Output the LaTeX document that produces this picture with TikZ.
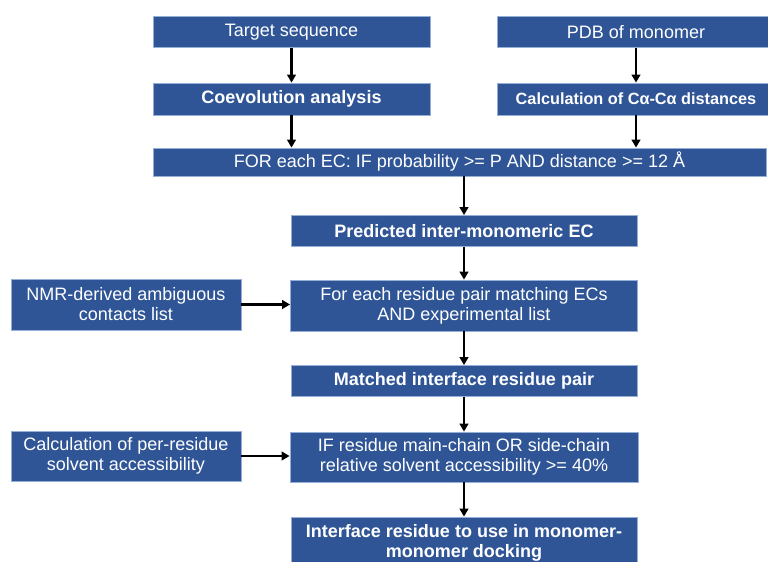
\documentclass[tikz,border=0pt]{standalone}
\usepackage{fontspec}
\setmainfont{Liberation Sans}
\usepackage{xcolor}
\usepackage{tikz}
\usetikzlibrary{arrows.meta}

\definecolor{boxblue}{RGB}{47,85,151}
\definecolor{boxedge}{RGB}{150,175,215}

\tikzset{
    flowbox/.style={draw=boxedge,line width=0.6pt,fill=boxblue,text=white,
        inner sep=0pt,align=center,font=\fontsize{13.5}{15}\selectfont},
    flowbold/.style={flowbox,font=\fontsize{13.5}{15}\selectfont\bfseries},
    flowarrow/.style={line width=1.6pt,-{Triangle[length=6pt,width=6.5pt]}}
}

\begin{document}
\begin{tikzpicture}[x=0.75pt,y=-0.75pt]
    \useasboundingbox (0,0) rectangle (768,561);
    \clip (0,0) rectangle (768,561);
    % top row
    \node[flowbox,minimum width=207.75pt,minimum height=23.25pt] (tgt) at (291.5,32) {Target sequence};
    \node[flowbox,minimum width=208.5pt,minimum height=23.25pt] (pdb) at (636,32) {PDB of monomer};
    \node[flowbold,minimum width=207.75pt,minimum height=24pt] (coev) at (291.5,99) {Coevolution analysis};
    \node[flowbold,minimum width=208.5pt,minimum height=24pt,font=\fontsize{12.2}{14}\selectfont\bfseries] (calc) at (636,99) {Calculation of Cα-Cα distances};
    \node[flowbox,minimum width=459.75pt,minimum height=21pt] (filt) at (459.5,162) {FOR each EC: IF probability >= P AND distance >= 12 Å};
    % middle column
    \node[flowbold,minimum width=259.5pt,minimum height=23.25pt] (pred) at (464,231) {Predicted inter-monomeric EC};
    \node[flowbox,minimum width=260.25pt,minimum height=38.25pt] (match) at (464,305.5) {For each residue pair matching ECs\\AND experimental list};
    \node[flowbold,minimum width=259.5pt,minimum height=23.25pt] (mip) at (464,381) {Matched interface residue pair};
    \node[flowbox,minimum width=261pt,minimum height=37.5pt] (ifres) at (464,457) {IF residue main-chain OR side-chain\\relative solvent accessibility >= 40\%};
    \node[flowbold,minimum width=259.5pt,minimum height=38.25pt] (iface) at (464,542.5) {Interface residue to use in monomer-\\monomer docking};
    % left inputs
    \node[flowbox,minimum width=172.5pt,minimum height=38.25pt] (nmr) at (126,304.5) {NMR-derived ambiguous\\contacts list};
    \node[flowbox,minimum width=172.5pt,minimum height=37.5pt] (rsa) at (126,456) {Calculation of per-residue\\solvent accessibility};
    % arrows
    \draw[flowarrow] (tgt) -- (coev);
    \draw[flowarrow] (pdb) -- (calc);
    \draw[flowarrow] (coev) -- (coev.south |- filt.north);
    \draw[flowarrow] (calc) -- (calc.south |- filt.north);
    \draw[flowarrow] (pred.north |- filt.south) -- (pred);
    \draw[flowarrow] (pred) -- (match);
    \draw[flowarrow] (nmr) -- (match.west |- nmr.east);
    \draw[flowarrow] (match) -- (mip);
    \draw[flowarrow] (mip) -- (ifres);
    \draw[flowarrow] (rsa) -- (ifres.west |- rsa.east);
    \draw[flowarrow] (ifres) -- (iface);
\end{tikzpicture}
\end{document}
